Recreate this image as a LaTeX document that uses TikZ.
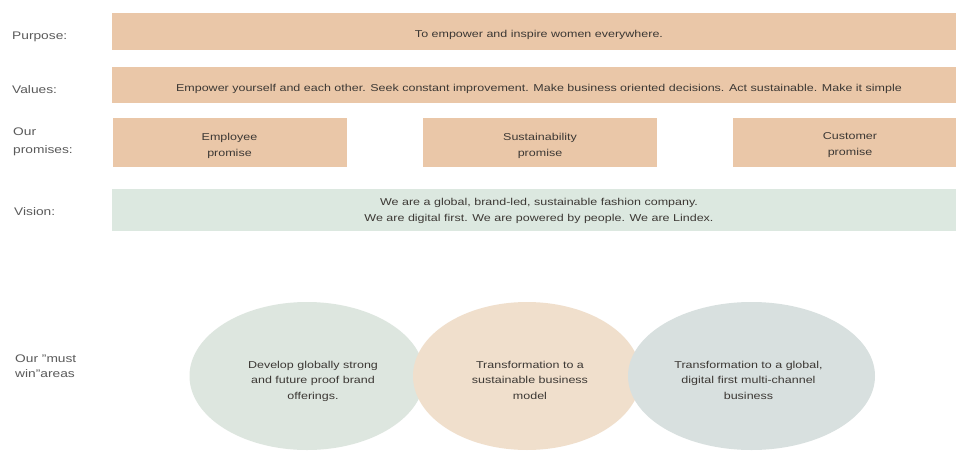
\documentclass[tikz,border=0pt]{standalone}
\usepackage{fontspec}
\setmainfont{Liberation Sans}[FakeStretch=1.25]
\usetikzlibrary{shapes.geometric}
\definecolor{tan}{RGB}{234,199,168}
\definecolor{mint}{RGB}{220,232,224}
\definecolor{sage}{RGB}{221,230,223}
\definecolor{peach}{RGB}{240,223,204}
\definecolor{slate}{RGB}{216,224,223}
\definecolor{ink}{RGB}{60,56,52}
\definecolor{lab}{RGB}{90,90,90}

\tikzset{
  bar/.style={fill=#1, minimum width=854pt, inner sep=0pt},
  pbox/.style={fill=tan, minimum width=234pt, minimum height=49pt, inner sep=0pt},
  area/.style={ellipse, fill=#1, inner sep=0pt, minimum height=148pt},
  words/.style={text=ink, font=\fontsize{10}{15.5}\selectfont, align=center, inner sep=0pt},
  rowlab/.style={anchor=west, text=lab, font=\fontsize{11}{15}\selectfont, align=left, inner sep=0pt}
}

\begin{document}
\begin{tikzpicture}[x=1pt,y=-1pt]
        \clip (0,0) rectangle (956,450);
        \fill[white] (0,0) rectangle (956,450);
        \def\midx{539}

        % Left hand labels
        \node[rowlab] (lpurpose) at (12,37) {Purpose:};
        \node[rowlab] (lvalues) at (12,90) {Values:};
        \node[rowlab, font=\fontsize{11}{17.5}\selectfont] (lpromise) at (13,142) {Our\\promises:};
        \node[rowlab] (lvision) at (14,212) {Vision:};
        \node[rowlab] (lmust) at (15,366) {Our "must\\win"areas};

        % Bars
        \node[bar=tan, minimum height=37pt] (purpose) at (\midx,31.5) {};
        \node[bar=tan, minimum height=36pt] (values) at (\midx,85) {};
        \node[pbox] (employee) at (229.5,142.5) {};
        \node[pbox] (sustain) at (540,142.5) {};
        \node[pbox] (customer) at (850,142.5) {};
        \node[bar=mint, minimum height=42pt] (vision) at (\midx,210) {};

        \node[words] (tpurpose) at ([yshift=-3pt]purpose.center) {To empower and inspire women everywhere.};
        \node[words] (tvalues) at ([yshift=-3.5pt]values.center) {Empower yourself and each other. Seek constant improvement. Make business oriented decisions. Act sustainable. Make it simple};
        \node[words, font=\fontsize{10}{16}\selectfont] (temployee) at ([yshift=-3pt]employee.center) {Employee\\promise};
        \node[words, font=\fontsize{10}{16}\selectfont] (tsustain) at ([yshift=-3pt]sustain.center) {Sustainability\\promise};
        \node[words, font=\fontsize{10}{16}\selectfont] (tcustomer) at ([yshift=-3pt]customer.center) {Customer\\promise};
        \node[words] (tvision) at ([yshift=-1pt]vision.center) {We are a global, brand-led, sustainable fashion company.\\We are digital first. We are powered by people. We are Lindex.};

        % Must win areas
        \node[area=sage, minimum width=235pt] (brand) at (307,376) {};
        \node[area=peach, minimum width=228pt] (model) at (527,376) {};
        \node[area=slate, minimum width=247pt] (digital) at (751.5,376) {};

        \node[words] (tbrand) at ([xshift=6pt,yshift=-5pt]brand.center) {Develop globally strong\\and future proof brand\\offerings.};
        \node[words] (tmodel) at ([xshift=3pt,yshift=-4pt]model.center) {Transformation to a\\sustainable business\\model};
        \node[words] (tdigital) at ([xshift=-3pt,yshift=-4pt]digital.center) {Transformation to a global,\\digital first multi-channel\\business};
\end{tikzpicture}
\end{document}
